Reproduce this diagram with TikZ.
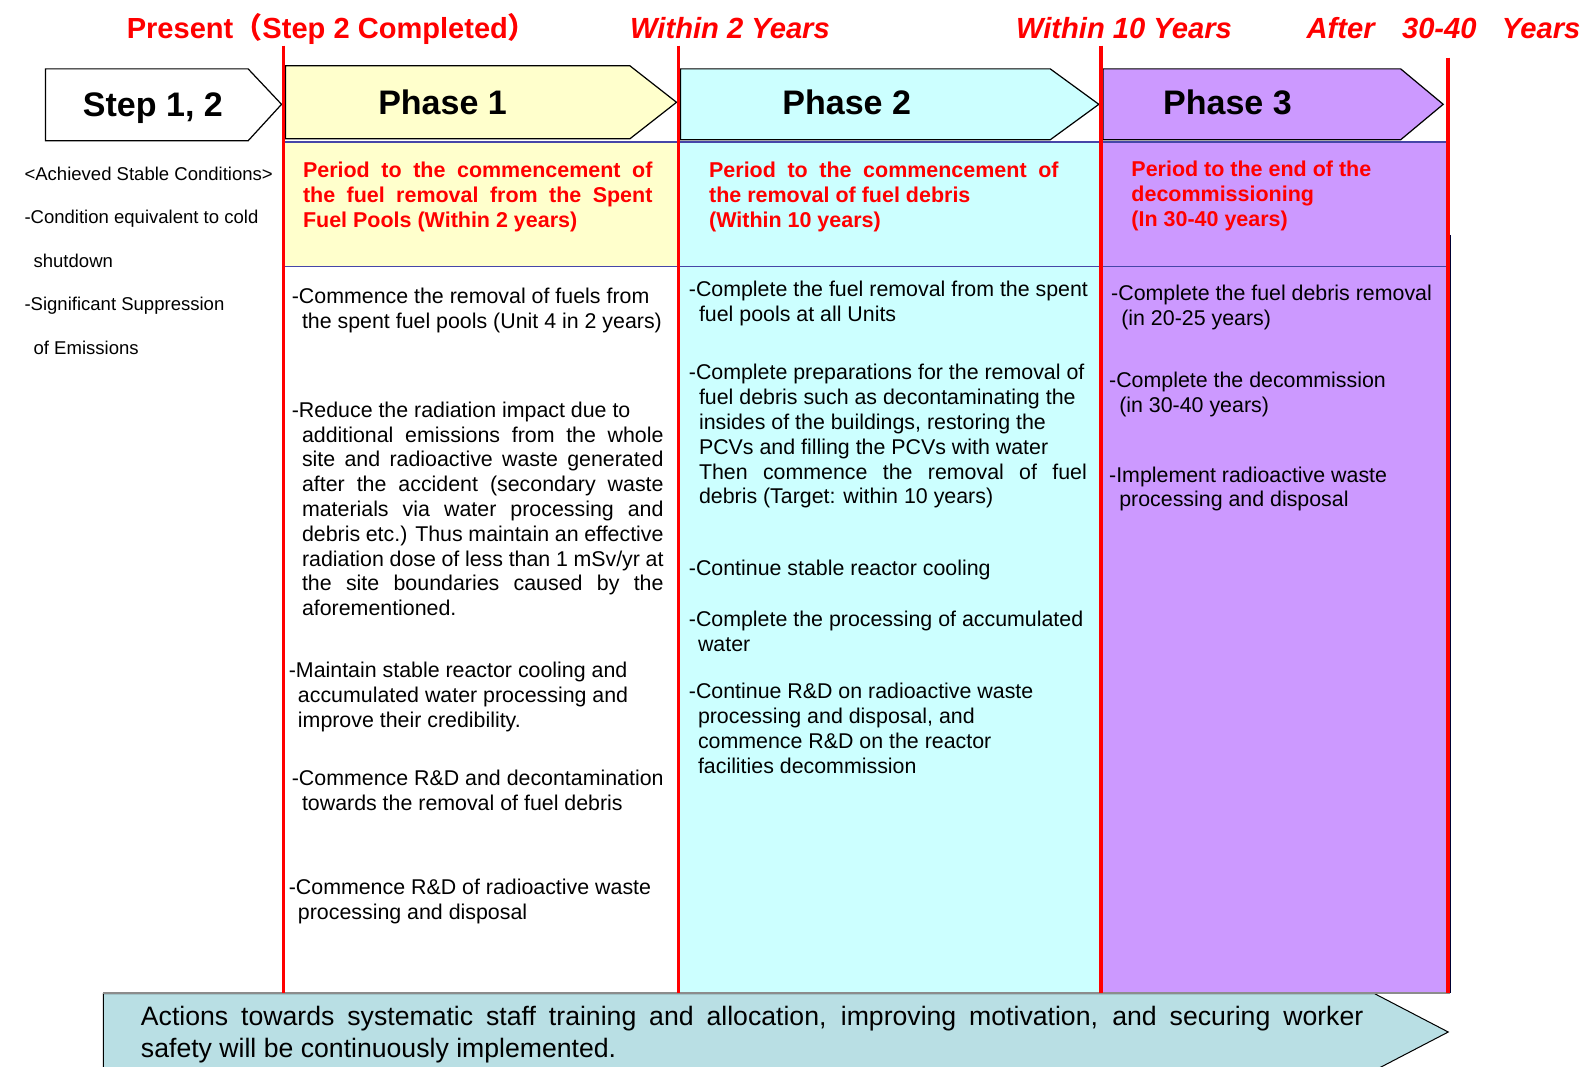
\documentclass[tikz,border=0pt]{standalone}
\usepackage{fontspec}
\setmainfont{Liberation Sans}
\newfontfamily\cjkfont{Noto Sans CJK JP}
\definecolor{pyellow}{HTML}{FFFFCC}
\definecolor{pcyan}{HTML}{CCFFFF}
\definecolor{ppurple}{HTML}{CC99FF}
\definecolor{pteal}{HTML}{B9DFE4}
\definecolor{pred}{HTML}{FF0000}
\definecolor{pblue}{HTML}{4646A8}
\newcommand{\jl}[2]{\makebox[#1pt][s]{\spaceskip=0pt\xspaceskip=0pt #2}}
\newcommand{\ind}{\hspace*{10pt}}
\tikzset{
  redline/.style={draw=pred,line width=3.5pt},
  phasebox/.style={draw=black,line width=1.2pt},
  sepline/.style={draw=pblue,line width=1.5pt},
  plainspace/.style={execute at begin node={\spaceskip=0pt\xspaceskip=0pt}},
  toplabel/.style={text=pred,font=\fontsize{28.7}{30}\selectfont\bfseries,inner sep=0,anchor=base west},
  toplabelit/.style={text=pred,font=\fontsize{28.8}{30}\selectfont\bfseries\itshape,inner sep=0,anchor=base west},
  headtxt/.style={font=\fontsize{33.6}{36}\selectfont\bfseries,inner sep=0,anchor=base},
  desc/.style={text=pred,font=\fontsize{21.2}{24.8}\selectfont\bfseries,inner sep=0,anchor=base west,text width=380pt,plainspace},
  body/.style={font=\fontsize{21.1}{24.5}\selectfont,inner sep=0,anchor=base west,text width=420pt,plainspace},
  side/.style={font=\fontsize{18.3}{43}\selectfont,inner sep=0,anchor=base west,text width=270pt,plainspace},
  bottomtxt/.style={font=\fontsize{26.3}{31}\selectfont,inner sep=0,anchor=base west,text width=1260pt,plainspace},
}
\begin{document}
\begin{tikzpicture}[x=1pt,y=-1pt]
\useasboundingbox (0,0) rectangle (1568,1053);
\clip (0,0) rectangle (1568,1053);
\fill[white] (0,0) rectangle (1568,1053);
% column backgrounds
\fill[pyellow] (280,139) rectangle (670,263);
\fill[pcyan] (670,139) rectangle (1087,980);
\fill[ppurple] (1087,139) rectangle (1430,980);
\draw[draw=black!80!blue,line width=1pt] (1432.5,232) -- (1432.5,980);
% separators
\draw[sepline] (280,140) -- (1430,140);
\draw[sepline] (280,263) -- (1430,263);
% phase arrows
\filldraw[phasebox,fill=white] (45,68) -- (245,68) -- (278,103) -- (245,139) -- (45,139) -- cycle;
\filldraw[phasebox,fill=pyellow] (282,65) -- (622,65) -- (668,101) -- (622,137) -- (282,137) -- cycle;
\filldraw[phasebox,fill=pcyan] (672,68) -- (1037,68) -- (1085,103) -- (1037,138) -- (672,138) -- cycle;
\filldraw[phasebox,fill=ppurple] (1089,68) -- (1383,68) -- (1425,103) -- (1383,138) -- (1089,138) -- cycle;
% bottom arrow
\filldraw[draw=black,line width=1pt,fill=pteal] (102,981) -- (1357,981) -- (1430,1019) -- (1357,1057) -- (102,1057) -- cycle;
\draw[draw=black!45,line width=2pt] (102,980) -- (1432,980);
% red time lines
\draw[redline] (280,45) -- (280,980);
\draw[redline] (670,45) -- (670,980);
\draw[redline] (1087,45) -- (1087,980);
\draw[redline] (1430,57) -- (1430,980);
% top labels
\node[toplabel] (lpresent) at (125,38) {Present{\cjkfont （}Step 2 Completed{\cjkfont ）}};
\node[toplabelit] (lw2) at (622,38) {Within 2 Years};
\node[toplabelit] (lw10) at (1003,38) {Within 10 Years};
\node[toplabelit] (lafter) at (1290,38) {After\hspace{27pt}30-40\hspace{25pt}Years};
% headers
\node[headtxt] (step) at (151,115) {Step 1, 2};
\node[headtxt] (ph1) at (437,113) {Phase 1};
\node[headtxt] (ph2) at (836,113) {Phase 2};
\node[headtxt] (ph3) at (1212,113) {Phase 3};
% side column
\node[side] (side) at (24,178) {<Achieved Stable Conditions>\\-Condition equivalent to cold\\\hspace*{9pt}shutdown\\-Significant Suppression\\\hspace*{9pt}of Emissions};
% descriptions
\node[desc] (d1) at (299,175) {\jl{345}{Period to the commencement of}\\\jl{345}{the fuel removal from the Spent}\\Fuel Pools (Within 2 years)};
\node[desc] (d2) at (700,175) {\jl{345}{Period to the commencement of}\\the removal of fuel debris\\(Within 10 years)};
\node[desc] (d3) at (1117,174) {Period to the end of the\\decommissioning\\(In 30-40 years)};
% phase 1 items
\node[body] (p1a) at (288,300) {-Commence the removal of fuels from\\\ind the spent fuel pools (Unit 4 in 2 years)};
\node[body] (p1b) at (288,412) {-Reduce the radiation impact due to\\
\ind\jl{357}{additional emissions from the whole}\\
\ind\jl{357}{site and radioactive waste generated}\\
\ind\jl{357}{after the accident (secondary waste}\\
\ind\jl{357}{materials via water processing and}\\
\ind\jl{357}{debris etc.) Thus maintain an effective}\\
\ind\jl{357}{radiation dose of less than 1 mSv/yr at}\\
\ind\jl{357}{the site boundaries caused by the}\\
\ind aforementioned.};
\node[body] (p1c) at (285,669) {-Maintain stable reactor cooling and\\\hspace*{9pt}accumulated water processing and\\\hspace*{9pt}improve their credibility.};
\node[body] (p1d) at (288,776) {-Commence R\&D and decontamination\\\ind towards the removal of fuel debris};
\node[body] (p1e) at (285,883) {-Commence R\&D of radioactive waste\\\hspace*{9pt}processing and disposal};
% phase 2 items
\node[body] (p2a) at (680,293) {-Complete the fuel removal from the spent\\\ind fuel pools at all Units};
\node[body] (p2b) at (680,375) {-Complete preparations for the removal of\\
\ind fuel debris such as decontaminating the\\
\ind insides of the buildings, restoring the\\
\ind PCVs and filling the PCVs with water\\
\ind\jl{383}{Then commence the removal of fuel}\\
\ind debris (Target: within 10 years)};
\node[body] (p2c) at (680,568) {-Continue stable reactor cooling};
\node[body] (p2d) at (680,619) {-Complete the processing of accumulated\\\hspace*{9pt}water};
\node[body] (p2e) at (680,690) {-Continue R\&D on radioactive waste\\\hspace*{9pt}processing and disposal, and\\\hspace*{9pt}commence R\&D on the reactor\\\hspace*{9pt}facilities decommission};
% phase 3 items
\node[body] (p3a) at (1097,297) {-Complete the fuel debris removal\\\ind(in 20-25 years)};
\node[body] (p3b) at (1095,383) {-Complete the decommission\\\ind(in 30-40 years)};
\node[body] (p3c) at (1095,476) {-Implement radioactive waste\\\ind processing and disposal};
% bottom text
\node[bottomtxt] (bt) at (139,1013) {\jl{1207}{Actions towards systematic staff training and allocation, improving motivation, and securing worker}\\safety will be continuously implemented.};
\end{tikzpicture}
\end{document}
